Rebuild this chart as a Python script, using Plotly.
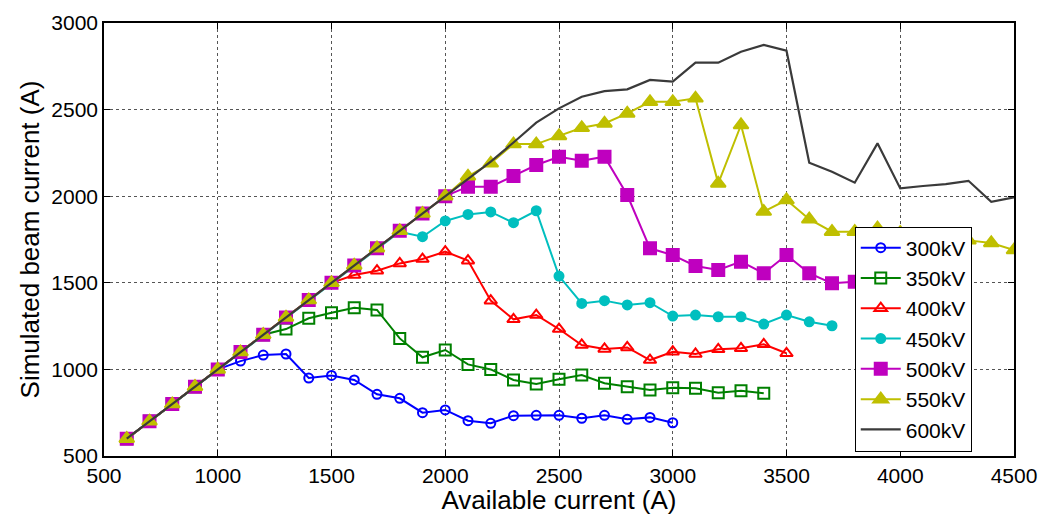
import plotly.graph_objects as go

# Available current (A) sample points
current = [600, 700, 800, 900, 1000, 1100, 1200, 1300, 1400, 1500, 1600, 1700, 1800, 1900,
           2000, 2100, 2200, 2300, 2400, 2500, 2600, 2700, 2800, 2900, 3000, 3100, 3200,
           3300, 3400, 3500, 3600, 3700, 3800, 3900, 4000, 4100, 4200, 4300, 4400, 4500]

# Simulated beam current (A) for each extraction voltage
beam_300 = [600, 700, 800, 900, 1000, 1048, 1083, 1089, 950, 965, 939, 856, 833, 750,
            766, 704, 689, 733, 735, 735, 718, 735, 712, 723, 692]
beam_350 = [600, 700, 800, 900, 1000, 1100, 1200, 1233, 1295, 1327, 1356, 1343, 1179, 1070,
            1112, 1029, 1000, 939, 916, 943, 968, 920, 900, 881, 894, 891, 865, 877, 862]
beam_400 = [600, 700, 800, 900, 1000, 1100, 1200, 1300, 1400, 1500, 1545, 1570, 1612, 1637,
            1680, 1628, 1397, 1289, 1314, 1233, 1141, 1118, 1127, 1054, 1102, 1089, 1116,
            1122, 1145, 1093]
beam_450 = [600, 700, 800, 900, 1000, 1100, 1200, 1300, 1400, 1500, 1600, 1700, 1795, 1766,
            1857, 1895, 1909, 1847, 1916, 1539, 1381, 1397, 1372, 1385, 1308, 1314, 1304,
            1304, 1262, 1314, 1275, 1252]
beam_500 = [600, 700, 800, 900, 1000, 1100, 1200, 1300, 1400, 1500, 1600, 1700, 1800, 1900,
            2000, 2055, 2055, 2117, 2180, 2228, 2205, 2228, 2007, 1699, 1660, 1597, 1574,
            1622, 1555, 1660, 1555, 1497, 1506]
beam_550 = [600, 700, 800, 900, 1000, 1100, 1200, 1300, 1400, 1500, 1600, 1700, 1800, 1900,
            2000, 2115, 2190, 2301, 2301, 2348, 2395, 2420, 2478, 2545, 2545, 2565, 2074,
            2411, 1911, 1978, 1867, 1795, 1795, 1815, 1790, 1770, 1760, 1745, 1730, 1689]
beam_600 = [600, 700, 800, 900, 1000, 1100, 1200, 1300, 1400, 1500, 1600, 1700, 1800, 1900,
            2000, 2100, 2200, 2310, 2425, 2507, 2574, 2607, 2617, 2671, 2661, 2771, 2771,
            2834, 2873, 2840, 2193, 2141, 2078, 2305, 2045, 2059, 2070, 2089, 1968, 1993]

labels = ["300kV", "350kV", "400kV", "450kV", "500kV", "550kV", "600kV"]
series = [beam_300, beam_350, beam_400, beam_450, beam_500, beam_550, beam_600]
colors = ["#0000FF", "#008000", "#FF0000", "#00BFBF", "#BF00BF", "#BFBF00", "#3a3a3a"]
symbols = ["circle-open", "square-open", "triangle-up-open", "circle", "square",
           "triangle-up", None]
msizes = [9, 11, 11, 9, 12, 13, 0]

FONT = "Liberation Sans, Arial, sans-serif"

fig = go.Figure()
for name, ys, col, sym, ms in zip(labels, series, colors, symbols, msizes):
    xs = current[:len(ys)]
    if sym is None:
        fig.add_trace(go.Scatter(x=xs, y=ys, name=name, mode="lines",
                                 line=dict(color=col, width=2.2)))
    else:
        fig.add_trace(go.Scatter(
            x=xs, y=ys, name=name, mode="lines+markers",
            line=dict(color=col, width=2),
            marker=dict(symbol=sym, size=ms, color=col,
                        line=dict(color=col, width=2))))

axis_common = dict(
    showline=True, linecolor="black", linewidth=1.5, mirror="ticks",
    ticks="inside", ticklen=6, tickcolor="black", tickwidth=1.2,
    showgrid=True, gridcolor="#555555", gridwidth=1, griddash="dot",
    zeroline=False, automargin=False,
    tickfont=dict(family=FONT, size=21, color="black"),
)

fig.update_xaxes(range=[500, 4500], dtick=500,
                 title=dict(text="Available current (A)", standoff=2,
                            font=dict(family=FONT, size=26, color="black")),
                 **axis_common)
fig.update_yaxes(range=[500, 3000], dtick=500,
                 title=dict(text="Simulated beam current (A)", standoff=4,
                            font=dict(family=FONT, size=26, color="black")),
                 **axis_common)

fig.update_layout(
    width=1046, height=515,
    margin=dict(l=104, r=32, t=23, b=59),
    plot_bgcolor="white", paper_bgcolor="white",
    font=dict(family=FONT, color="black"),
    legend=dict(x=0.825, y=0.53, xanchor="left", yanchor="top",
                bgcolor="white", bordercolor="black", borderwidth=1,
                font=dict(size=21, color="black"), tracegroupgap=0,
                itemwidth=40),
    showlegend=True,
)

fig.write_html("out.html")
